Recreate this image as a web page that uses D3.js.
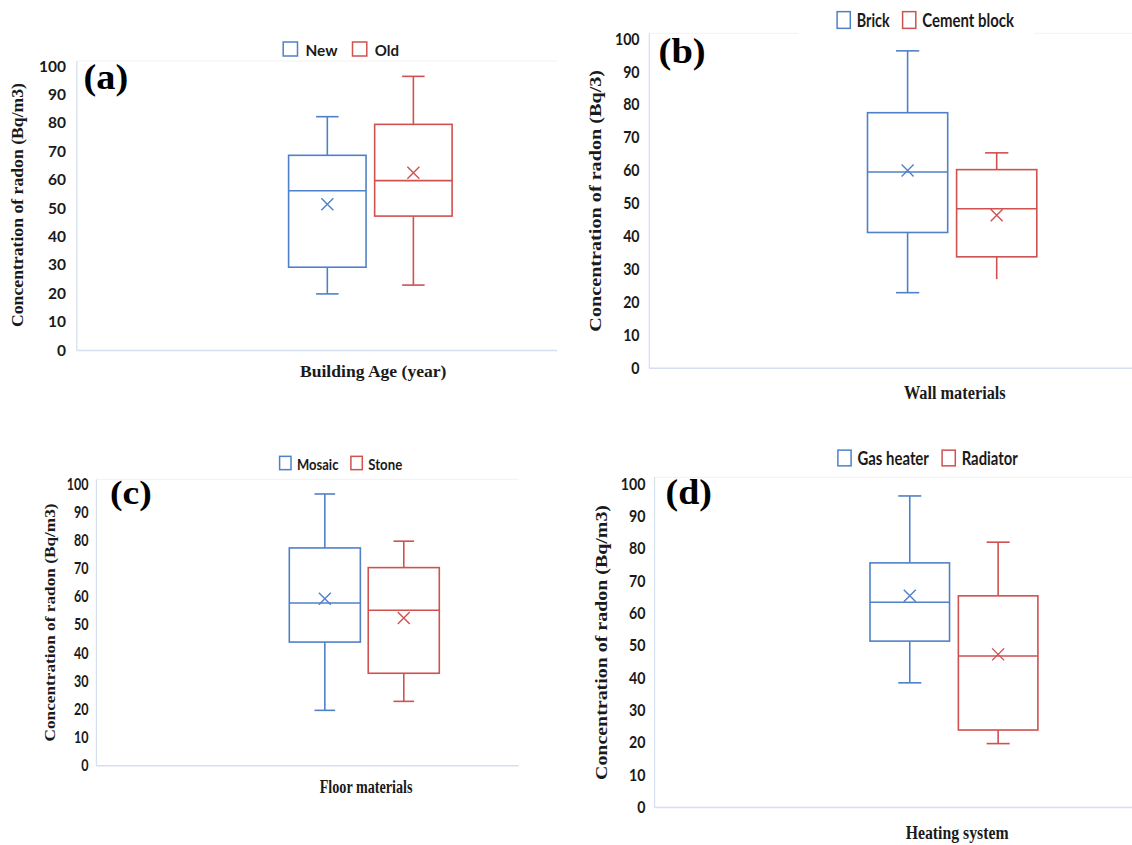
<!DOCTYPE html>
<html>
<head>
<meta charset="utf-8">
<script src="https://cdn.jsdelivr.net/npm/d3@7"></script>
<style>
  html, body { margin: 0; padding: 0; background: #ffffff; }
  svg { display: block; }
</style>
</head>
<body>
<svg id="chart" width="1132" height="845"></svg>
<script>
// ---------------- DATA ----------------
const yTicks = [0, 10, 20, 30, 40, 50, 60, 70, 80, 90, 100];

const categoriesA = ["New", "Old"];
const minA    = [19.4, 22.5];
const q1A     = [28.8, 46.8];
const medianA = [55.7, 59.3];
const q3A     = [68.2, 79.1];
const maxA    = [81.8, 96.0];
const meanA   = [51.0, 62.1];

const categoriesB = ["Brick", "Cement block"];
const minB    = [22.5, 26.6];
const q1B     = [40.8, 33.4];
const medianB = [59.2, 48.0];
const q3B     = [77.2, 59.9];
const maxB    = [96.0, 65.0];
const meanB   = [59.6, 46.0];

const categoriesC = ["Mosaic", "Stone"];
const minC    = [19.2, 22.4];
const q1C     = [43.5, 32.4];
const medianC = [57.4, 54.8];
const q3C     = [77.0, 70.0];
const maxC    = [96.2, 79.4];
const meanC   = [58.9, 52.1];

const categoriesD = ["Gas heater", "Radiator"];
const minD    = [38.1, 19.3];
const q1D     = [51.0, 23.5];
const medianD = [63.0, 46.4];
const q3D     = [75.2, 65.0];
const maxD    = [95.9, 81.6];
const meanD   = [65.0, 46.9];

const panelLabels = ["(a)", "(b)", "(c)", "(d)"];
const xTitles = ["Building Age (year)", "Wall materials", "Floor materials", "Heating system"];
const yTitles = ["Concentration of radon (Bq/m3)", "Concentration of radon (Bq/3)",
                 "Concentration of radon (Bq/m3)", "Concentration of radon (Bq/m3)"];

// ---------------- STYLE / LAYOUT ----------------
const seriesColors = ["#4f81c8", "#cf5150"];
const axisColor = "#d5dff0";
const sansFont = "Lato, 'Open Sans', sans-serif";
const serifFont = "'Liberation Serif', 'Times New Roman', serif";

const layouts = [
  { left: 76.8, right: 557, top: 61, y0: 349, y100: 65, group: [288.6, 452.1],
    tickRight: 66, tickSize: 15.5, tickSX: 1.0,
    legend: { x: 283.2, y: 49, sqW: 14.3, sqH: 14, size: 16, lens: [32, 24.3], gap1: 8, gap2: 15 },
    letter: { x: 83.6, y: 89, size: 36, len: 44.7 },
    yTitle: { x: 17.9, y: 205, size: 16, len: 244 },
    xTitle: { x: 373.2, y: 371.7, size: 17, len: 146.4 } },
  { left: 649.3, right: 1132, top: 33.3, y0: 366.7, y100: 37.7, group: [867.5, 1036.8],
    tickRight: 639.6, tickSize: 16.5, tickSX: 0.86,
    legend: { x: 837.1, y: 20, sqW: 13.2, sqH: 16.7, size: 18.5, lens: [32.8, 91.7], gap1: 6.5, gap2: 13, bg: [798.6, 1034.3] },
    letter: { x: 658.6, y: 63, size: 36, len: 47.1 },
    yTitle: { x: 595, y: 200.8, size: 17, len: 261.7 },
    xTitle: { x: 954.8, y: 393.3, size: 18, len: 101.8 },
    noLowerCap: ["Cement block"] },
  { left: 96.4, right: 518.6, top: 479.3, y0: 764.3, y100: 483.3, group: [289.3, 439.3],
    tickRight: 88.6, tickSize: 16.5, tickSX: 0.76,
    legend: { x: 279.6, y: 463, sqW: 11.4, sqH: 13.3, size: 16, lens: [41.4, 33.9], gap1: 6, gap2: 12.5 },
    letter: { x: 110, y: 503.5, size: 34, len: 41.8 },
    yTitle: { x: 50, y: 622.5, size: 15, len: 238 },
    xTitle: { x: 366.1, y: 787.3, size: 18, len: 92.9 } },
  { left: 654.6, right: 1132, top: 477.3, y0: 806, y100: 482.7, group: [870, 1037.9],
    tickRight: 645.5, tickSize: 16.5, tickSX: 0.86,
    legend: { x: 837.9, y: 458, sqW: 13.2, sqH: 15.7, size: 18.5, lens: [71.4, 56.1], gap1: 6.4, gap2: 13.2 },
    letter: { x: 665.5, y: 504, size: 35, len: 46.4 },
    yTitle: { x: 601.4, y: 642.5, size: 16.5, len: 275 },
    xTitle: { x: 957.1, y: 832.7, size: 18, len: 102.9 } }
];

const panelData = [
  { cats: categoriesA, min: minA, q1: q1A, med: medianA, q3: q3A, max: maxA, mean: meanA },
  { cats: categoriesB, min: minB, q1: q1B, med: medianB, q3: q3B, max: maxB, mean: meanB },
  { cats: categoriesC, min: minC, q1: q1C, med: medianC, q3: q3C, max: maxC, mean: meanC },
  { cats: categoriesD, min: minD, q1: q1D, med: medianD, q3: q3D, max: maxD, mean: meanD }
];

// ---------------- DRAW ----------------
const svg = d3.select("#chart");
svg.append("rect").attr("width", 1132).attr("height", 845).attr("fill", "#fff");

panelData.forEach((pd, i) => {
  const L = layouts[i];
  const g = svg.append("g").attr("class", "panel-" + i);

  const y = d3.scaleLinear().domain([0, 100]).range([L.y0, L.y100]);
  const x = d3.scaleBand().domain(pd.cats).range(L.group).paddingInner(0.1).paddingOuter(0);
  const color = d3.scaleOrdinal().domain(pd.cats).range(seriesColors);

  // plot frame
  const axisY = L.y0 + 1.5;
  g.append("line").attr("x1", L.left).attr("x2", L.right).attr("y1", L.top).attr("y2", L.top)
    .attr("stroke", "#f2f2f2").attr("stroke-width", 1);
  g.append("line").attr("x1", L.left).attr("x2", L.left).attr("y1", L.top).attr("y2", axisY)
    .attr("stroke", axisColor).attr("stroke-width", 1.2);
  g.append("line").attr("x1", L.left).attr("x2", L.right).attr("y1", axisY).attr("y2", axisY)
    .attr("stroke", axisColor).attr("stroke-width", 1.5);

  // y tick labels via d3 axis
  const yAxis = d3.axisLeft(y).tickValues(yTicks).tickSize(0).tickPadding(0).tickFormat(d3.format("d"));
  const ag = g.append("g").attr("transform", `translate(${L.tickRight},0)`).call(yAxis);
  ag.select(".domain").remove();
  ag.selectAll(".tick text")
    .attr("x", null).attr("dy", null)
    .attr("text-anchor", "end")
    .attr("dominant-baseline", "central")
    .attr("transform", `scale(${L.tickSX},1)`)
    .style("font-family", sansFont).style("font-weight", "700")
    .style("font-size", L.tickSize + "px").attr("fill", "#1a1a1a");

  // boxes
  const idx = d3.range(pd.cats.length);
  const bw = x.bandwidth();
  const capHalf = bw * 0.145;
  idx.forEach(k => {
    const c = pd.cats[k];
    const x0 = x(c), cx = x0 + bw / 2;
    const col = color(c);
    const bg = g.append("g").attr("stroke", col).attr("stroke-width", 1.6).attr("fill", "none");
    // whiskers
    bg.append("line").attr("x1", cx).attr("x2", cx).attr("y1", y(pd.q3[k])).attr("y2", y(pd.max[k]));
    bg.append("line").attr("x1", cx).attr("x2", cx).attr("y1", y(pd.q1[k])).attr("y2", y(pd.min[k]));
    bg.append("line").attr("x1", cx - capHalf).attr("x2", cx + capHalf).attr("y1", y(pd.max[k])).attr("y2", y(pd.max[k]));
    if (!(L.noLowerCap || []).includes(c)) {
      bg.append("line").attr("x1", cx - capHalf).attr("x2", cx + capHalf).attr("y1", y(pd.min[k])).attr("y2", y(pd.min[k]));
    }
    // box
    bg.append("rect").attr("x", x0).attr("width", bw)
      .attr("y", y(pd.q3[k])).attr("height", y(pd.q1[k]) - y(pd.q3[k])).attr("fill", "#fff");
    // median
    bg.append("line").attr("x1", x0).attr("x2", x0 + bw).attr("y1", y(pd.med[k])).attr("y2", y(pd.med[k]));
    // mean marker X
    const my = y(pd.mean[k]), s = 6;
    bg.append("path").attr("d", `M${cx - s},${my - s}L${cx + s},${my + s}M${cx - s},${my + s}L${cx + s},${my - s}`)
      .attr("stroke-width", 1.4);
  });

  // legend
  const lg = L.legend;
  if (lg.bg) {
    g.append("rect").attr("x", lg.bg[0]).attr("width", lg.bg[1] - lg.bg[0])
      .attr("y", lg.y - 14).attr("height", 30).attr("fill", "#fff");
  }
  let lx = lg.x;
  pd.cats.forEach((c, k) => {
    g.append("rect").attr("x", lx).attr("y", lg.y - lg.sqH / 2).attr("width", lg.sqW).attr("height", lg.sqH)
      .attr("fill", "#fff").attr("stroke", color(c)).attr("stroke-width", 1.5);
    const tx = lx + lg.sqW + lg.gap1;
    g.append("text").attr("x", tx).attr("y", lg.y).attr("dominant-baseline", "central")
      .attr("textLength", lg.lens[k]).attr("lengthAdjust", "spacingAndGlyphs")
      .style("font-family", sansFont).style("font-weight", "700").style("font-size", lg.size + "px")
      .attr("fill", "#1a1a1a").text(c);
    lx = tx + lg.lens[k] + lg.gap2;
  });

  // panel letter
  g.append("text").attr("x", L.letter.x).attr("y", L.letter.y)
    .attr("textLength", L.letter.len).attr("lengthAdjust", "spacingAndGlyphs")
    .style("font-family", serifFont).style("font-weight", "700").style("font-size", L.letter.size + "px")
    .attr("fill", "#000").text(panelLabels[i]);

  // y title
  g.append("text").attr("transform", `translate(${L.yTitle.x},${L.yTitle.y}) rotate(-90)`)
    .attr("text-anchor", "middle").attr("dominant-baseline", "central")
    .attr("textLength", L.yTitle.len).attr("lengthAdjust", "spacingAndGlyphs")
    .style("font-family", serifFont).style("font-weight", "700").style("font-size", L.yTitle.size + "px")
    .attr("fill", "#1a1a1a").text(yTitles[i]);

  // x title
  g.append("text").attr("x", L.xTitle.x).attr("y", L.xTitle.y)
    .attr("text-anchor", "middle").attr("dominant-baseline", "central")
    .attr("textLength", L.xTitle.len).attr("lengthAdjust", "spacingAndGlyphs")
    .style("font-family", serifFont).style("font-weight", "700").style("font-size", L.xTitle.size + "px")
    .attr("fill", "#1a1a1a").text(xTitles[i]);
});
</script>
</body>
</html>
